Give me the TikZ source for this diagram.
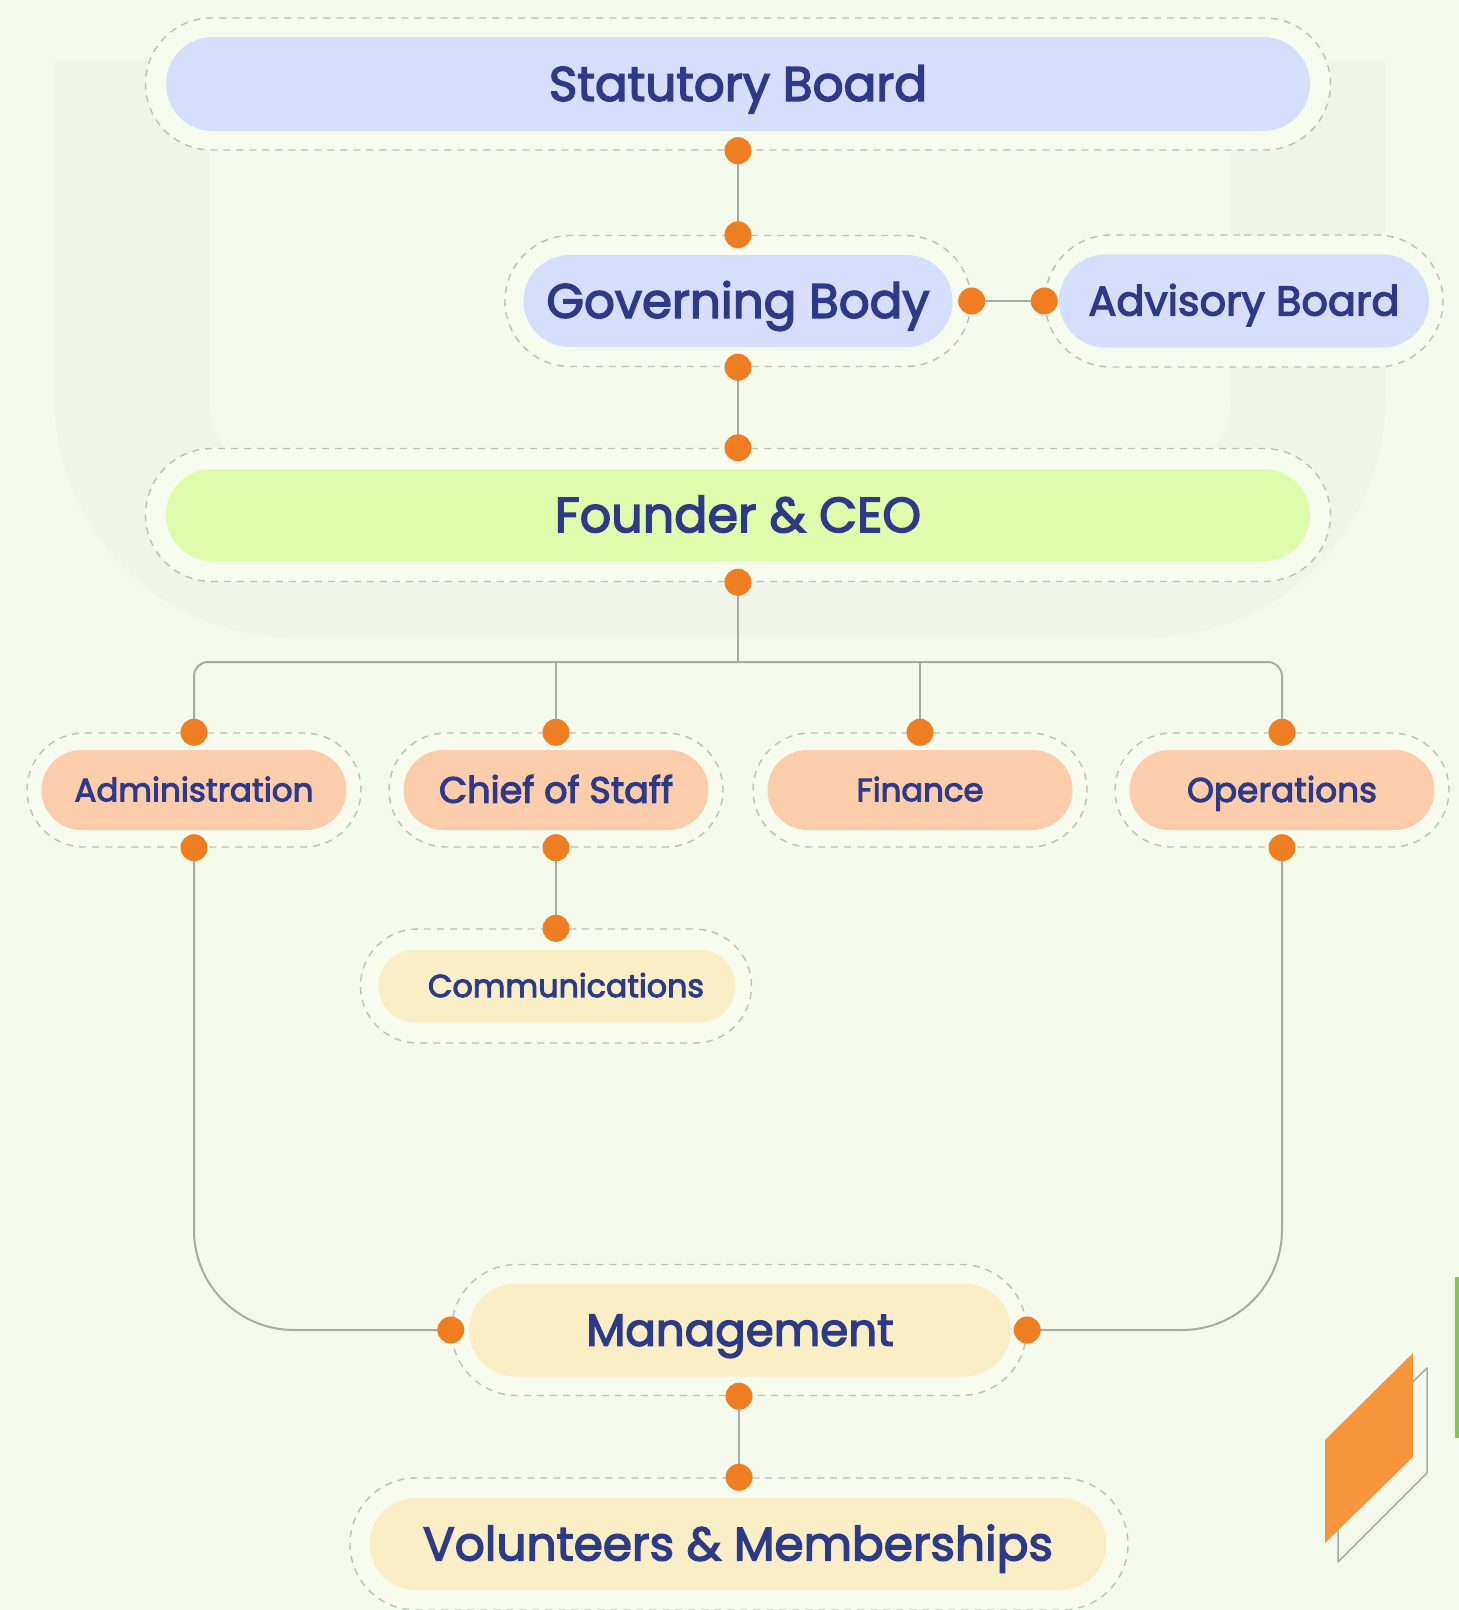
\documentclass[tikz,border=0pt]{standalone}
\usepackage{fontspec}
\setmainfont{Poppins}
\newfontfamily\lblfont{Poppins}[FakeBold=3]
\usetikzlibrary{shapes.misc}
\definecolor{bg}{HTML}{F4FAEB}
\definecolor{band}{HTML}{F0F5E9}
\definecolor{ringc}{HTML}{F6FBEE}
\definecolor{dashc}{HTML}{BFC2B8}
\definecolor{lav}{HTML}{D5DEFB}
\definecolor{lime}{HTML}{DFFBAC}
\definecolor{peach}{HTML}{FCCDAB}
\definecolor{cream}{HTML}{FAEEC6}
\definecolor{navy}{HTML}{2D3A88}
\definecolor{dotc}{HTML}{EF7D21}
\definecolor{linec}{HTML}{A9ABA3}
\definecolor{decor}{HTML}{F7953D}
\definecolor{greenl}{HTML}{8DC152}
\newcommand{\lbl}[2]{\resizebox{#1}{!}{\smash{#2}\vphantom{H}}}
\begin{document}
\begin{tikzpicture}[x=1pt,y=-1pt,
  pill/.style={rounded rectangle, inner sep=0pt, text=navy, font=\lblfont},
  ring/.style={rounded rectangle, draw=dashc, fill=ringc, line width=1.4pt, dash pattern=on 7pt off 6pt, inner sep=0pt},
  dot/.style={circle, fill=dotc, inner sep=0pt, minimum size=27pt},
  link/.style={draw=linec, line width=2pt}]
\fill[bg] (0,0) rectangle (1459,1610);
\useasboundingbox (0,0) rectangle (1459,1610);
% faint background band
\draw[band, line width=155pt, rounded corners=160pt] (132,60) -- (132,560) -- (1308,560) -- (1308,60);
% rings
\node[ring, minimum width=1185pt, minimum height=132pt] (sbo) at (738,84) {};
\node[ring, minimum width=466pt, minimum height=131pt] (gbo) at (738,301) {};
\node[ring, minimum width=398pt, minimum height=132pt] (abo) at (1244,301) {};
\node[ring, minimum width=1185pt, minimum height=133pt] (fco) at (738,515) {};
\node[ring, minimum width=334pt, minimum height=114pt] (admo) at (194,790) {};
\node[ring, minimum width=334pt, minimum height=114pt] (coso) at (556,790) {};
\node[ring, minimum width=334pt, minimum height=114pt] (fino) at (920,790) {};
\node[ring, minimum width=334pt, minimum height=114pt] (opso) at (1282,790) {};
\node[ring, minimum width=391pt, minimum height=114pt] (como) at (556,986) {};
\node[ring, minimum width=575pt, minimum height=131pt] (mgo) at (739,1330) {};
\node[ring, minimum width=778pt, minimum height=132pt] (vmo) at (739,1544) {};
% pills
\node[pill, fill=lav, minimum width=1144pt, minimum height=94pt] (sb) at (738,84) {\lbl{378pt}{Statutory Board}};
\node[pill, fill=lav, minimum width=429pt, minimum height=92pt] (gb) at (738,301) {\lbl{383pt}{Governing Body}};
\node[pill, fill=lav, minimum width=370pt, minimum height=93pt] (ab) at (1244,301) {\lbl{311pt}{Advisory Board}};
\node[pill, fill=lime, minimum width=1144pt, minimum height=92pt] (fc) at (738,515) {\lbl{366pt}{Founder \& CEO}};
\node[pill, fill=peach, minimum width=305pt, minimum height=80pt] (adm) at (194,790) {\lbl{239pt}{Administration}};
\node[pill, fill=peach, minimum width=305pt, minimum height=80pt] (cos) at (556,790) {\lbl{234pt}{Chief of Staff}};
\node[pill, fill=peach, minimum width=305pt, minimum height=80pt] (fin) at (920,790) {\lbl{127pt}{Finance}};
\node[pill, fill=peach, minimum width=305pt, minimum height=80pt] (ops) at (1282,790) {\lbl{190pt}{Operations}};
\node[pill, fill=cream, minimum width=357pt, minimum height=73pt] (com) at (557,986) {\hspace*{18pt}\lbl{276pt}{Communications}};
\node[pill, fill=cream, minimum width=542pt, minimum height=93pt] (mg) at (740,1330) {\lbl{307pt}{Management}};
\node[pill, fill=cream, minimum width=737pt, minimum height=92pt] (vm) at (738,1544) {\lbl{630pt}{Volunteers \& Memberships}};
% connectors
\coordinate (bus) at (738,662);
\draw[link] (sbo.south) -- (gbo.north);
\draw[link] (gbo.south) -- (fco.north);
\draw[link] (gbo.east) -- (abo.west);
\draw[link] (fco.south) -- (bus);
\draw[link, rounded corners=14pt] (admo.north) -- (admo.north |- bus) -- (opso.north |- bus) -- (opso.north);
\draw[link] (coso.north) -- (coso.north |- bus);
\draw[link] (fino.north) -- (fino.north |- bus);
\draw[link] (coso.south) -- (como.north);
\draw[link, rounded corners=100pt] (admo.south) |- (mgo.west);
\draw[link, rounded corners=100pt] (opso.south) |- (mgo.east);
\draw[link] (mgo.south) -- (vmo.north);
% dots
\foreach \p in {sbo.south, gbo.north, gbo.south, gbo.east, abo.west, fco.north, fco.south,
  admo.north, admo.south, coso.north, coso.south, fino.north, opso.north, opso.south,
  como.north, mgo.west, mgo.east, mgo.south, vmo.north}
  \node[dot] at (\p) {};
% decoration
\draw[linec, line width=1.5pt, line join=round] (1427,1368) -- (1427,1473) -- (1338,1562) -- (1338,1455) -- cycle;
\fill[decor] (1413,1353) -- (1413,1457) -- (1325,1543) -- (1325,1440) -- cycle;
\fill[greenl] (1455,1277) rectangle (1459,1438);
\end{tikzpicture}
\end{document}
